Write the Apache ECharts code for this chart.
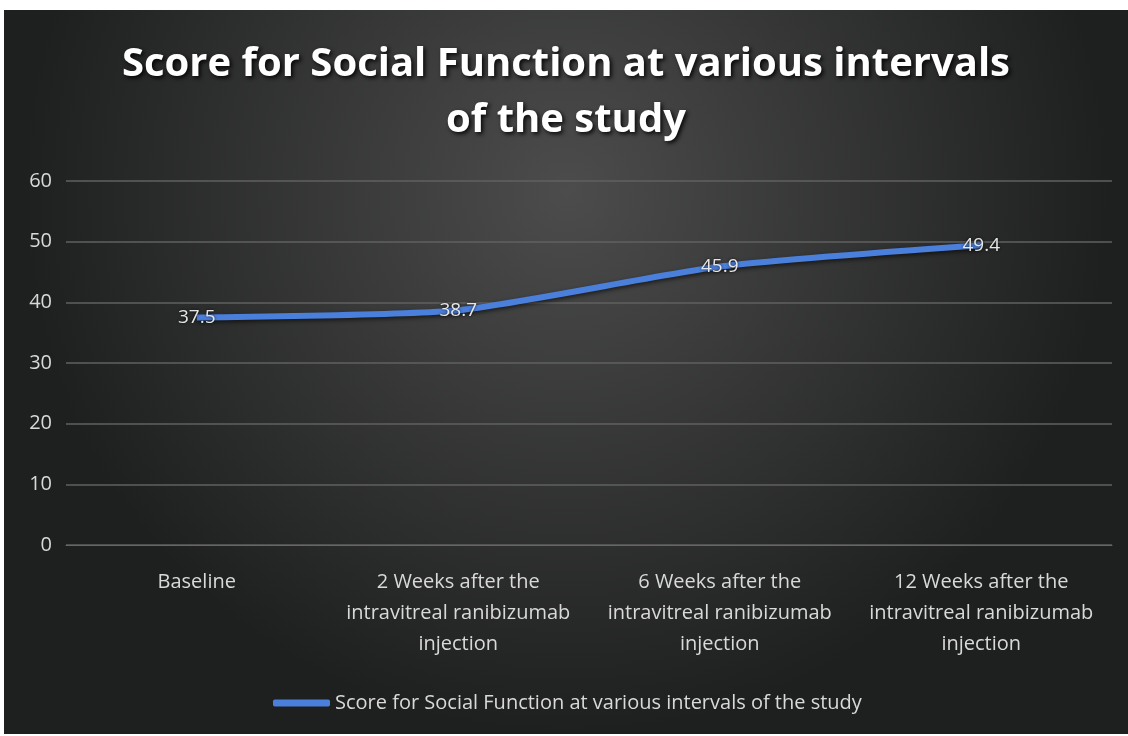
<!DOCTYPE html>
<html>
<head>
<meta charset="utf-8">
<script src="https://cdn.jsdelivr.net/npm/echarts@6/dist/echarts.min.js"></script>
<style>
html,body{margin:0;padding:0;background:#ffffff;}
#chart{position:absolute;left:4px;top:10px;width:1124px;height:724px;}
</style>
</head>
<body>
<div id="chart"></div>
<script>
const categories = [
  "Baseline",
  "2 Weeks after the\nintravitreal ranibizumab\ninjection",
  "6 Weeks after the\nintravitreal ranibizumab\ninjection",
  "12 Weeks after the\nintravitreal ranibizumab\ninjection"
];
const scores = [37.5, 38.7, 45.9, 49.4];
const seriesName = "Score for Social Function at various intervals of the study";
const titleText = "Score for Social Function at various intervals\nof the study";

const chart = echarts.init(document.getElementById('chart'));
const font = "'Open Sans', Lato, sans-serif";
chart.setOption({
  backgroundColor: {
    type: 'radial', x: 0.5, y: 0.25, r: 0.75,
    colorStops: [{offset: 0, color: '#4c4c4c'}, {offset: 1, color: '#1e1f1f'}]
  },
  title: {
    text: titleText,
    left: 'center',
    top: 22,
    textStyle: {
      color: '#ffffff', fontSize: 40, fontWeight: 'bold', fontFamily: "'Open Sans', Lato, sans-serif",
      lineHeight: 56,
      textShadowColor: 'rgba(0,0,0,0.9)', textShadowBlur: 4, textShadowOffsetX: 2, textShadowOffsetY: 2
    }
  },
  grid: {left: 62, right: 16, top: 171, bottom: 189, containLabel: false},
  xAxis: {
    type: 'category',
    data: categories,
    boundaryGap: true,
    axisLine: {lineStyle: {color: '#666666', width: 1}},
    axisTick: {show: false},
    axisLabel: {color: '#d9d9d9', fontSize: 20, fontFamily: font, lineHeight: 31, margin: 22, interval: 0}
  },
  yAxis: {
    type: 'value',
    min: 0, max: 60, interval: 10,
    axisLine: {show: false},
    axisTick: {show: false},
    splitLine: {lineStyle: {color: '#606060', width: 1.5}},
    axisLabel: {color: '#d9d9d9', fontSize: 20, fontFamily: font, margin: 14}
  },
  legend: {
    data: [seriesName],
    left: 264, top: 678,
    icon: 'roundRect', itemWidth: 57, itemHeight: 7,
    textStyle: {color: '#d9d9d9', fontSize: 20, fontFamily: font}
  },
  series: [{
    name: seriesName,
    type: 'line',
    data: scores,
    smooth: 0.2,
    symbol: 'circle',
    symbolSize: 0,
    showSymbol: true,
    lineStyle: {color: '#4a7fdb', width: 6, shadowColor: 'rgba(0,0,0,0.6)', shadowBlur: 4, shadowOffsetY: 2},
    itemStyle: {color: '#4a7fdb'},
    label: {
      show: true, position: 'inside', formatter: p => p.value.toFixed(1),
      color: '#e6e6e6', fontSize: 19, fontFamily: font,
      textShadowColor: 'rgba(0,0,0,0.8)', textShadowBlur: 3
    }
  }]
});
</script>
</body>
</html>
